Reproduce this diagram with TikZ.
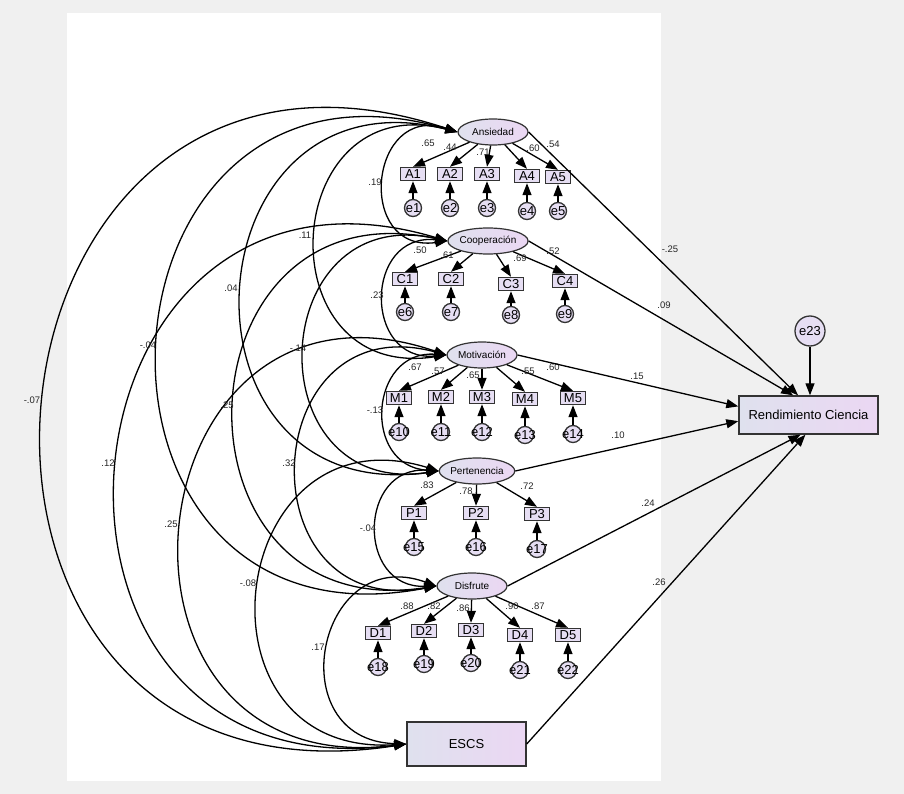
\documentclass[tikz,border=0pt]{standalone}
\usepackage{fontspec}
\setmainfont{Liberation Sans}
\usetikzlibrary{arrows.meta,shapes.geometric,calc}
\definecolor{bggray}{HTML}{F0F0F0}
\definecolor{lavL}{HTML}{DFE1EE}
\definecolor{lavR}{HTML}{EBD7F3}
\definecolor{boxfill}{HTML}{E6DEF3}
\definecolor{edgec}{HTML}{333333}
\begin{document}
\begin{tikzpicture}[x=1pt,y=-1pt,
  tip/.style={-{Triangle[length=12pt,width=9pt]}},
  dtip/.style={{Triangle[length=12pt,width=9pt]}-{Triangle[length=12pt,width=9pt]}},
  conn/.style={line width=1.3pt, black},
  latent/.style={ellipse, draw=edgec, line width=1.2pt, left color=lavL, right color=lavR, minimum width=70pt, minimum height=26pt, inner sep=0pt, font=\fontsize{10}{10}\selectfont},
  ind/.style={rectangle, draw=edgec, line width=1.4pt, fill=boxfill, minimum width=25pt, minimum height=13pt, inner sep=0pt, font=\fontsize{13}{13}\selectfont},
  err/.style={circle, draw=edgec, line width=1.3pt, fill=boxfill, minimum size=17pt, inner sep=0pt, font=\fontsize{13}{13}\selectfont},
  big/.style={rectangle, draw=edgec, line width=1.4pt, left color=lavL, right color=lavR, inner sep=0pt, font=\fontsize{13}{13}\selectfont},
  coef/.style={font=\fontsize{9.5}{9.5}\selectfont, inner sep=0pt, text=black!85},
]
% background
\fill[bggray] (0,0) rectangle (904,794);
\fill[white] (67,13) rectangle (661,781);
\useasboundingbox (0,0) rectangle (904,794);

% latent variables
\node[latent] (ans) at (493,132) {Ansiedad};
\node[latent] (coo) at (488,241) {Cooperación};
\node[latent] (mot) at (482,355) {Motivación};
\node[latent] (per) at (477,471) {Pertenencia};
\node[latent] (dis) at (472,586) {Disfrute};

% big boxes
\node[big, minimum width=119pt, minimum height=44pt] (esc) at (466.5,744) {ESCS};
\node[big, minimum width=139pt, minimum height=38pt] (rc) at (808.5,415) {Rendimiento Ciencia};
\node[err, minimum size=30pt] (e23) at (810,331) {e23};

% indicators
\foreach \n/\x/\y/\t in {a1/413/174/A1, a2/450/174/A2, a3/487/174/A3, a4/527/176/A4, a5/558/177/A5,
  c1/405/279/C1, c2/451/279/C2, c3/511/284/C3, c4/565/281/C4,
  m1/399/398/M1, m2/441/397/M2, m3/482/397/M3, m4/525/399/M4, m5/573/398/M5,
  p1/414/513/P1, p2/476/513/P2, p3/537/514/P3,
  d1/378/633/D1, d2/424/631/D2, d3/471/630/D3, d4/520/635/D4, d5/568/635/D5}{
  \node[ind] (\n) at (\x,\y) {\t};
}
% error terms
\foreach \n/\x/\y/\t in {e1/413/208/a1, e2/450/208/a2, e3/487/208/a3, e4/527/211/a4, e5/558/211/a5,
  e6/405/312/c1, e7/451/312/c2, e8/511/315/c3, e9/565/314/c4,
  e10/399/432/m1, e11/441/432/m2, e12/482/432/m3, e13/525/435/m4, e14/573/434/m5,
  e15/414/547/p1, e16/476/547/p2, e17/537/549/p3,
  e18/378/667/d1, e19/424/664/d2, e20/471/663/d3, e21/520/670/d4, e22/568/670/d5}{
  \node[err] (\n) at (\x,\y) {\makebox[0pt]{\n}};
  \draw[conn,tip] (\n) -- (\t.south);
}

% loadings
\foreach \l/\i in {ans/a1, ans/a2, ans/a3, ans/a4, ans/a5,
  coo/c1, coo/c2, coo/c3, coo/c4,
  mot/m1, mot/m2, mot/m3, mot/m4, mot/m5,
  per/p1, per/p2, per/p3,
  dis/d1, dis/d2, dis/d3, dis/d4, dis/d5}{
  \draw[conn,tip] (\l) -- (\i.north);
}
\foreach \v/\x/\y in {.65/428/143, .44/450/147, .71/483/152, .60/533/148, .54/553/144,
  .50/420/250, .61/447/255, .69/520/258, .52/553/251,
  .67/415/367, .57/438/371, .65/473/375, .55/528/371, .60/553/367,
  .83/427/485, .78/466/491, .72/527/486,
  .88/407/606, .82/434/606, .86/463/608, .90/512/606, .87/538/606}{
  \node[coef] at (\x,\y) {\v};
}

% regression paths
\draw[conn,tip] (ans.east) -- (rc.118);
\draw[conn,tip] (coo.east) -- (rc.128);
\draw[conn,tip] (mot.east) -- (rc.173.4);
\draw[conn,tip] (per.east) -- (rc.185);
\draw[conn,tip] (dis.east) -- (rc.248);
\draw[conn,tip] (esc.east) -- (rc.261.5);
\draw[conn,tip] (e23) -- (e23 |- rc.north);
\node[coef] (r1) at (670,249) {-.25};
\node[coef] (r2) at (664,305) {.09};
\node[coef] (r3) at (637,376) {.15};
\node[coef] (r4) at (618,435) {.10};
\node[coef] (r5) at (648,503) {.24};
\node[coef] (r6) at (659,582) {.26};

% covariances
\draw[conn,dtip] (ans.west) to[bend right=103, looseness=2.18] (coo.west);
\draw[conn,dtip] (ans.west) to[bend right=101.5, looseness=2.12] (mot.west);
\draw[conn,dtip] (ans.west) to[bend right=101, looseness=2.11] (per.west);
\draw[conn,dtip] (ans.west) to[bend right=103.6, looseness=2.23] (dis.west);
\draw[conn,dtip] (ans.west) to[bend right=103.6, looseness=2.23] (esc.west);
\draw[conn,dtip] (coo.west) to[bend right=95.5, looseness=1.88] (mot.west);
\draw[conn,dtip] (coo.west) to[bend right=100.4, looseness=2.08] (per.west);
\draw[conn,dtip] (coo.west) to[bend right=100.4, looseness=2.08] (dis.west);
\draw[conn,dtip] (coo.west) to[bend right=102, looseness=2.15] (esc.west);
\draw[conn,dtip] (mot.west) to[bend right=90, looseness=1.70] (per.west);
\draw[conn,dtip] (mot.west) to[bend right=102.7, looseness=2.18] (dis.west);
\draw[conn,dtip] (mot.west) to[bend right=103, looseness=2.2] (esc.west);
\draw[conn,dtip] (per.west) to[bend right=92.8, looseness=1.79] (dis.west);
\draw[conn,dtip] (per.west) to[bend right=100.4, looseness=2.08] (esc.west);
\draw[conn,dtip] (dis.west) to[bend right=99, looseness=2.03] (esc.west);

\node[coef] (k1) at (375,182) {.19};
\node[coef] (k2) at (305,235) {.11};
\node[coef] (k3) at (231,288) {.04};
\node[coef] (k4) at (148,345) {-.04};
\node[coef] (k5) at (32,400) {-.07};
\node[coef] (k6) at (377,295) {.23};
\node[coef] (k7) at (298,348) {-.14};
\node[coef] (k8) at (227,405) {.25};
\node[coef] (k9) at (108,463) {.12};
\node[coef] (k10) at (375,410) {-.13};
\node[coef] (k11) at (289,463) {.32};
\node[coef] (k12) at (171,524) {.25};
\node[coef] (k13) at (368,528) {-.04};
\node[coef] (k14) at (248,583) {-.08};
\node[coef] (k15) at (318,647) {.17};
\end{tikzpicture}
\end{document}
